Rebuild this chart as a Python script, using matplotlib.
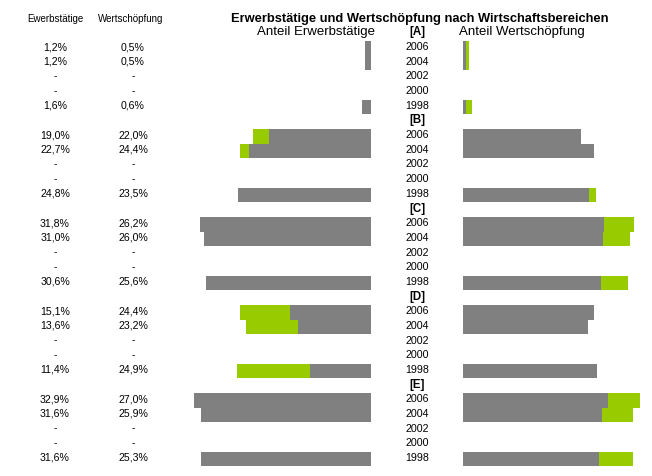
import matplotlib
matplotlib.use("Agg")
import matplotlib.pyplot as plt

plt.rcParams["font.family"] = ["Liberation Sans", "DejaVu Sans"]

# data: share of employed persons / gross value added per sector
sectors = ["[A]", "[B]", "[C]", "[D]", "[E]"]
years = ["2006", "2004", "2002", "2000", "1998"]
erwerb = [
    [1.2, 1.2, None, None, 1.6],
    [19.0, 22.7, None, None, 24.8],
    [31.8, 31.0, None, None, 30.6],
    [15.1, 13.6, None, None, 11.4],
    [32.9, 31.6, None, None, 31.6],
]
wert = [
    [0.5, 0.5, None, None, 0.6],
    [22.0, 24.4, None, None, 23.5],
    [26.2, 26.0, None, None, 25.6],
    [24.4, 23.2, None, None, 24.9],
    [27.0, 25.9, None, None, 25.3],
]

GRAY = "#808080"
GREEN = "#99CC00"
W, H = 652, 477
row_px = 14.67
top_px = 31
scale = 5.38  # px per percent

fig = plt.figure(figsize=(W / 100, H / 100), dpi=100)
ylim = ((H - top_px) / row_px, -top_px / row_px)

# text layer in pixel x / row y
ax_t = fig.add_axes([0, 0, 1, 1])
ax_t.set_xlim(0, W)
ax_t.set_ylim(*ylim)
ax_t.axis("off")

# left bars (Erwerbstaetige) grow to the left from x=371, right ones from x=463
x0_l, x0_r = 371, 463
span = 35
ax_l = fig.add_axes([(x0_l - span * scale) / W, 0, span * scale / W, 1])
ax_l.set_xlim(span, 0)
ax_l.set_ylim(*ylim)
ax_l.axis("off")
ax_r = fig.add_axes([x0_r / W, 0, span * scale / W, 1])
ax_r.set_xlim(0, span)
ax_r.set_ylim(*ylim)
ax_r.axis("off")

fmt = lambda v: "-" if v is None else f"{v:.1f}%".replace(".", ",")

off = 0.25   # bars sit a bit lower than the labels
toff = 0.1
for g, sec in enumerate(sectors):
    base = g * 6
    ax_t.text(417, base + toff, sec, ha="center", va="center", fontsize=8.3, fontweight="bold")
    for i, yr in enumerate(years):
        r = base + 1 + i
        ax_t.text(417, r + toff, yr, ha="center", va="center", fontsize=7.7)
        e, w = erwerb[g][i], wert[g][i]
        ax_t.text(55, r + toff, fmt(e), ha="center", va="center", fontsize=7.6)
        ax_t.text(133, r + toff, fmt(w), ha="center", va="center", fontsize=7.6)
        if e is None:
            continue
        ax_l.barh(r + off, e, height=1.0, color=GRAY, linewidth=0)
        if w > e:
            ax_l.barh(r + off, w - e, left=e, height=1.0, color=GREEN, linewidth=0)
        ax_r.barh(r + off, w, height=1.0, color=GRAY, linewidth=0)
        if e > w:
            ax_r.barh(r + off, e - w, left=w, height=1.0, color=GREEN, linewidth=0)

ax_t.text(55, -0.85, "Ewerbstätige", ha="center", va="center", fontsize=7)
ax_t.text(131, -0.85, "Wertschöpfung", ha="center", va="center", fontsize=7)
ax_t.text(420, -0.85, "Erwerbstätige und Wertschöpfung nach Wirtschaftsbereichen",
          ha="center", va="center", fontsize=9.3, fontweight="bold")
ax_t.text(316, toff, "Anteil Erwerbstätige", ha="center", va="center", fontsize=9.5)
ax_t.text(522, toff, "Anteil Wertschöpfung", ha="center", va="center", fontsize=9.5)

fig.savefig("out.png", dpi=100)
